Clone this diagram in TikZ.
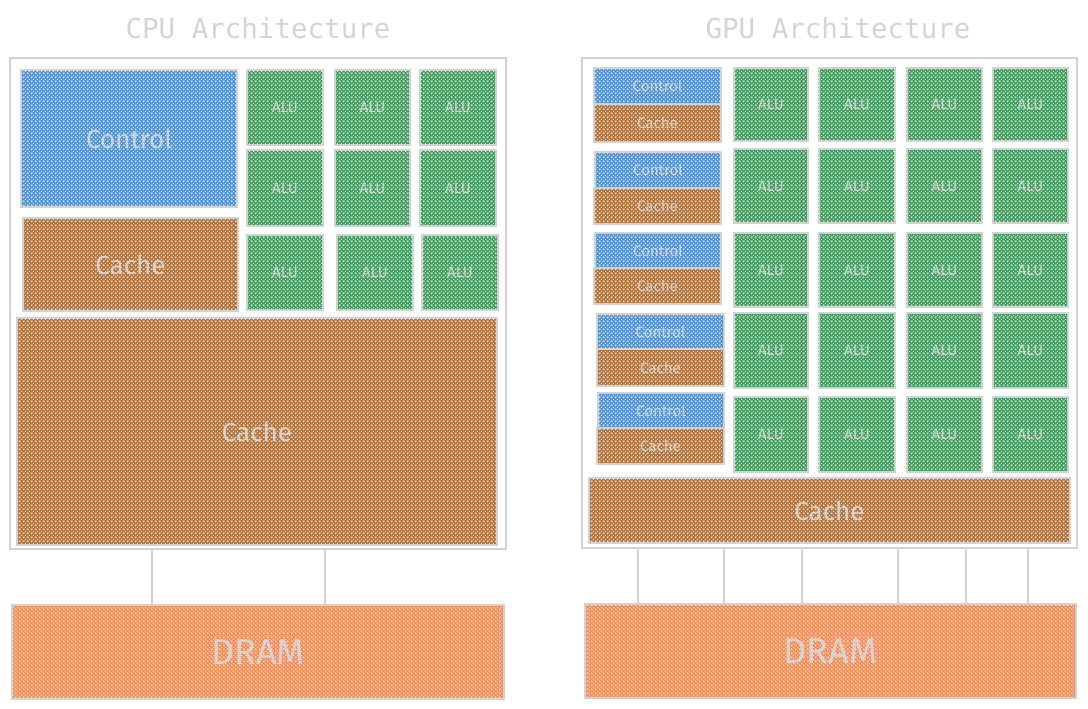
\documentclass[tikz,border=0pt]{standalone}
\usepackage{fontspec}
\setmainfont{Fira Sans}
\setmonofont{DejaVu Sans Mono}
\usetikzlibrary{patterns.meta}
\definecolor{cblue}{HTML}{4A8ED6}
\definecolor{cgreen}{HTML}{3C9A57}
\definecolor{cbrown}{HTML}{B06E35}
\definecolor{corange}{HTML}{F08A52}
\definecolor{edge}{HTML}{D2D2D2}
\definecolor{txt}{HTML}{D4D4D4}
\tikzdeclarepattern{
  name=hdots, type=uncolored,
  bounding box={(0pt,0pt) and (4pt,4pt)},
  tile size={(4pt,4pt)},
  code={\fill (0pt,0pt) circle (0.75pt); \fill (4pt,0pt) circle (0.75pt);
        \fill (0pt,4pt) circle (0.75pt); \fill (4pt,4pt) circle (0.75pt);
        \fill (2pt,2pt) circle (0.75pt);}
}
\tikzset{
  chip/.style={draw=edge, line width=1.6pt, inner sep=0pt},
  hatch/.style={draw=edge, line width=1.2pt, inner sep=0pt, text=txt,
    preaction={fill=#1}, pattern=hdots, pattern color=white},
  ctl/.style={hatch=cblue},
  alu/.style={hatch=cgreen},
  cch/.style={hatch=cbrown},
  dram/.style={hatch=corange, font=\fontsize{36}{40}\selectfont},
  big/.style={font=\fontsize{26}{30}\selectfont},
  small/.style={font=\fontsize{15}{18}\selectfont},
  title/.style={text=txt, font=\ttfamily\fontsize{27.5}{30}\selectfont},
  bus/.style={draw=edge, line width=1.6pt},
}
\newcommand\blk[7]{\node[#6, minimum width={(#4-#2)*1pt}, minimum height={(#5-#3)*1pt}] (#1) at ({(#2+#4)/2},{(#3+#5)/2}) {#7};}
\begin{document}
\begin{tikzpicture}[x=1pt,y=-1pt]
\useasboundingbox (0,0) rectangle (1088,709);
% ---------- CPU ----------
\node[title] (cputitle) at (258,28) {CPU Architecture};
\blk{cpu}{10}{58}{506}{549}{chip}{}
\blk{cctl}{21}{70}{237}{207}{ctl,big}{Control}
\blk{ccache}{23}{218}{238}{311}{cch,big}{Cache}
\blk{ca11}{247}{70}{323}{145}{alu,small}{ALU}
\blk{ca12}{335}{70}{410}{145}{alu,small}{ALU}
\blk{ca13}{420}{70}{496}{145}{alu,small}{ALU}
\blk{ca21}{247}{150}{323}{226}{alu,small}{ALU}
\blk{ca22}{335}{150}{410}{226}{alu,small}{ALU}
\blk{ca23}{420}{150}{496}{226}{alu,small}{ALU}
\blk{ca31}{247}{235}{323}{310}{alu,small}{ALU}
\blk{ca32}{337}{235}{413}{310}{alu,small}{ALU}
\blk{ca33}{422}{235}{498}{310}{alu,small}{ALU}
\blk{cbig}{17}{318}{497}{545}{cch,big}{Cache}
\blk{cdram}{12}{605}{504}{699}{dram}{DRAM}
\foreach \x [count=\i] in {152,325}{
  \coordinate (cb\i) at (\x,0);
  \draw[bus] (cpu.south -| cb\i) -- (cdram.north -| cb\i);
}
% ---------- GPU ----------
\node[title] (gputitle) at (838,28) {GPU Architecture};
\blk{gpu}{582}{58}{1077}{548}{chip}{}
\blk{gc1}{594}{68}{721}{104}{ctl,small}{Control}
\blk{gk1}{594}{104}{721}{142}{cch,small}{Cache}
\blk{gc2}{595}{152}{721}{188}{ctl,small}{Control}
\blk{gk2}{594}{188}{721}{224}{cch,small}{Cache}
\blk{gc3}{595}{233}{721}{268}{ctl,small}{Control}
\blk{gk3}{594}{268}{721}{304}{cch,small}{Cache}
\blk{gc4}{597}{314}{724}{349}{ctl,small}{Control}
\blk{gk4}{597}{349}{724}{386}{cch,small}{Cache}
\blk{gc5}{598}{393}{724}{428}{ctl,small}{Control}
\blk{gk5}{597}{428}{724}{464}{cch,small}{Cache}
\foreach \ya/\yb [count=\r] in {68/141,149/223,233/307,313/388,397/472}{
  \foreach \xa/\xb [count=\c] in {734/808,819/895,907/982,993/1068}{
    \blk{ga\r\c}{\xa}{\ya}{\xb}{\yb}{alu,small}{ALU}
  }
}
\blk{gbig}{589}{478}{1070}{543}{cch,big}{Cache}
\blk{gdram}{585}{604}{1076}{698}{dram}{DRAM}
\foreach \x [count=\i] in {638,724,802,898,966,1028}{
  \coordinate (gb\i) at (\x,0);
  \draw[bus] (gpu.south -| gb\i) -- (gdram.north -| gb\i);
}
\end{tikzpicture}
\end{document}
